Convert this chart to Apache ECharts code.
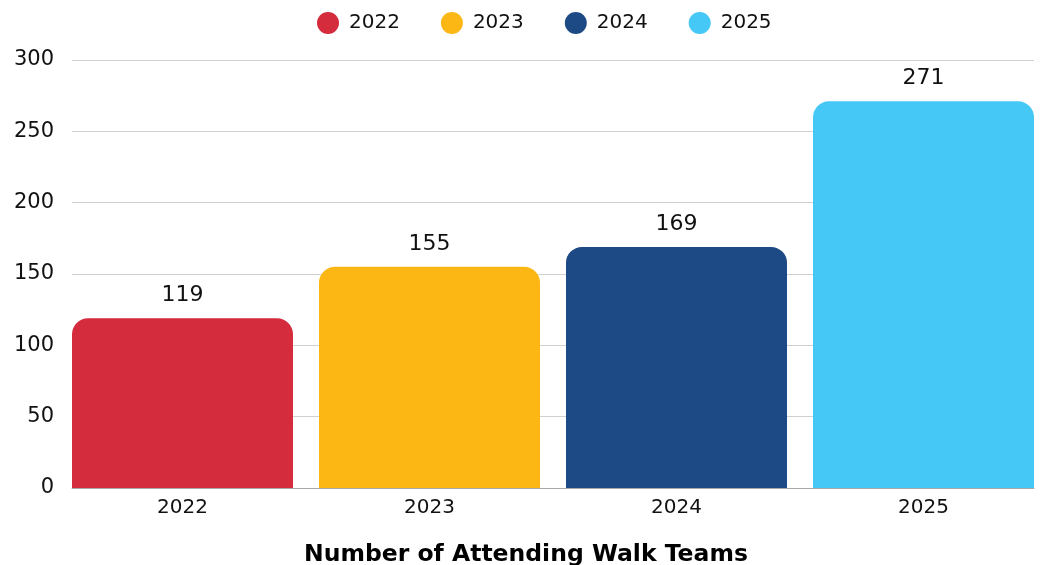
<!DOCTYPE html>
<html>
<head>
<meta charset="utf-8">
<script src="https://cdn.jsdelivr.net/npm/echarts@6/dist/echarts.min.js"></script>
<style>
  html, body { margin: 0; padding: 0; background: #fff; }
  #chart { width: 1040px; height: 565px; }
</style>
</head>
<body>
<div id="chart"></div>
<script>
// data
const years = ['2022', '2023', '2024', '2025']
const teams = [119, 155, 169, 271]
const colors = ['#d42b3d', '#fdb714', '#1d4a85', '#45c8f5']
const yTicks = [0, 50, 100, 150, 200, 250, 300]

const FONT = '"DejaVu Sans", sans-serif'

const chart = echarts.init(document.getElementById('chart'))

// one series per year so the legend shows each year; stacked so bars sit centred
const series = years.map((y, i) => ({
  name: y,
  type: 'bar',
  stack: 'all',
  xAxisIndex: 1,
  yAxisIndex: 1,
  barWidth: 221,
  itemStyle: { color: colors[i], borderRadius: [16, 16, 0, 0] },
  label: {
    show: true,
    position: 'top',
    distance: 12,
    color: '#111',
    fontSize: 22,
    fontFamily: FONT
  },
  data: years.map((_, j) => (j === i ? teams[i] : null))
}))

const yMin = yTicks[0]
const yMax = yTicks[yTicks.length - 1]

chart.setOption({
  animation: false,
  textStyle: { fontFamily: FONT },
  title: {
    text: 'Number of Attending Walk Teams',
    left: 299,
    top: 538,
    textStyle: { fontSize: 23.5, fontWeight: 'bold', color: '#000', fontFamily: FONT }
  },
  legend: {
    top: 7,
    left: 312,
    icon: 'circle',
    itemWidth: 22,
    itemHeight: 22,
    itemGap: 41,
    textStyle: { fontSize: 20, color: '#111', fontFamily: FONT, padding: [0, 0, 0, 5] }
  },
  // grid 0: gridlines + axis line; grid 1: bars, flush with the plot edges
  grid: [
    { left: 72, right: 6, top: 60, bottom: 77 },
    { left: 59, width: 988, top: 60, bottom: 77, outerBoundsMode: 'none' }
  ],
  xAxis: [
    {
      type: 'value',
      gridIndex: 0,
      min: 0,
      max: 1,
      axisLine: { show: true, onZero: false, lineStyle: { color: '#aaa' } },
      axisTick: { show: false },
      axisLabel: { show: false },
      splitLine: { show: false }
    },
    {
      type: 'category',
      gridIndex: 1,
      data: years,
      axisLine: { show: false },
      axisTick: { show: false },
      axisLabel: { fontSize: 20, color: '#111', margin: 10, fontFamily: FONT }
    }
  ],
  yAxis: [
    {
      type: 'value',
      gridIndex: 0,
      min: yMin,
      max: yMax,
      interval: 50,
      axisLine: { show: false },
      axisTick: { show: false },
      splitLine: { lineStyle: { color: '#d0d0d0' } },
      axisLabel: { fontSize: 21, color: '#111', margin: 18, fontFamily: FONT }
    },
    {
      type: 'value',
      gridIndex: 1,
      min: yMin,
      max: yMax,
      interval: 50,
      show: false
    }
  ],
  series
})
</script>
</body>
</html>
